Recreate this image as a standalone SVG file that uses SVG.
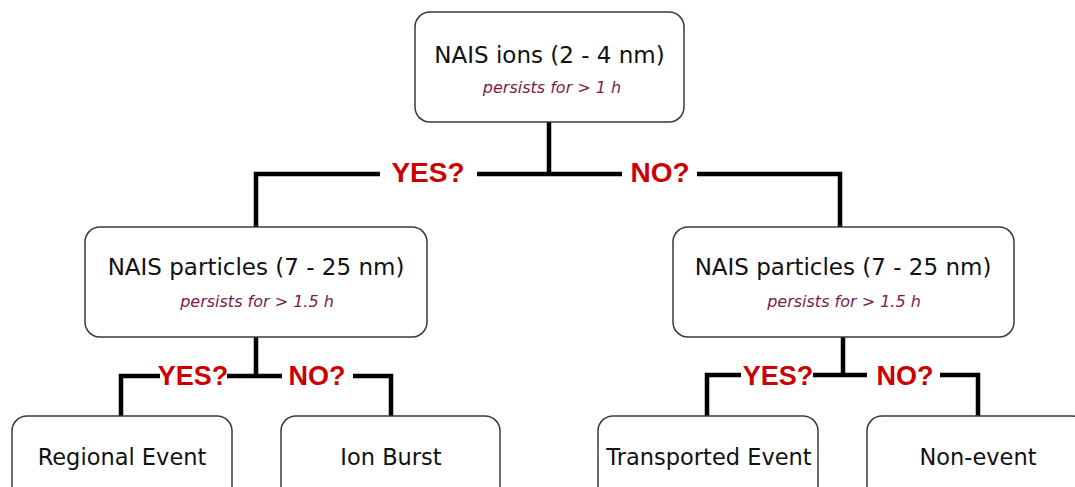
<svg xmlns="http://www.w3.org/2000/svg" width="1075" height="487" viewBox="0 0 1075 487">
<style>
.box{fill:#fff;stroke:#3a3a3a;stroke-width:1.5}
.t{font-family:"DejaVu Sans",Verdana,sans-serif;font-size:23px;fill:#111;text-anchor:middle}
.b{font-family:"DejaVu Sans",Verdana,sans-serif;font-size:22.5px;fill:#111;text-anchor:middle}
.s{font-family:"DejaVu Sans",Verdana,sans-serif;font-size:16px;font-style:italic;fill:#7a1c4c;text-anchor:middle}
.l{font-family:"Liberation Sans",Arial,sans-serif;font-weight:bold;fill:#cc0000;text-anchor:middle}
.c{fill:none;stroke:#000;stroke-width:4.5;stroke-linejoin:miter;stroke-linecap:butt}
</style>
<rect width="1075" height="487" fill="#fff"/>
<g id="connectors">
<path class="c" d="M256,228 V174 H380 M477,174 H622 M549,122 V174 M697,174 H840 V228"/>
<path class="c" d="M121,416 V376 H160 M227,376 H282 M256,337 V376 M353,376 H391 V416"/>
<path class="c" d="M707,416 V375 H741 M813,375 H867 M843,337 V375 M940,375 H978 V416"/>
<text class="l" x="428" y="182" font-size="28">YES?</text>
<text class="l" x="660" y="182" font-size="28">NO?</text>
<text class="l" x="193" y="385" font-size="27">YES?</text>
<text class="l" x="317" y="385" font-size="27">NO?</text>
<text class="l" x="778" y="385" font-size="27">YES?</text>
<text class="l" x="905" y="385" font-size="27">NO?</text>
</g>
<g id="n-ions">
<rect class="box" x="415" y="12" width="269" height="110" rx="15"/>
<text class="t" x="549.5" y="63">NAIS ions (2 - 4 nm)</text>
<text class="s" x="552" y="93">persists for &gt; 1 h</text>
</g>
<g id="n-particles-left">
<rect class="box" x="85" y="227" width="342" height="110" rx="15"/>
<text class="t" x="256" y="275">NAIS particles (7 - 25 nm)</text>
<text class="s" x="257" y="307">persists for &gt; 1.5 h</text>
</g>
<g id="n-particles-right">
<rect class="box" x="673" y="227" width="341" height="110" rx="15"/>
<text class="t" x="843" y="275">NAIS particles (7 - 25 nm)</text>
<text class="s" x="844" y="307">persists for &gt; 1.5 h</text>
</g>
<g id="n-regional">
<rect class="box" x="12" y="416" width="220" height="110" rx="15"/>
<text class="b" x="122" y="465">Regional Event</text>
</g>
<g id="n-ionburst">
<rect class="box" x="281" y="416" width="219" height="110" rx="15"/>
<text class="b" x="391" y="465">Ion Burst</text>
</g>
<g id="n-transported">
<rect class="box" x="598" y="416" width="220" height="110" rx="15"/>
<text class="b" x="709" y="465">Transported Event</text>
</g>
<g id="n-nonevent">
<rect class="box" x="867" y="416" width="220" height="110" rx="15"/>
<text class="b" x="978" y="465">Non-event</text>
</g>
</svg>
